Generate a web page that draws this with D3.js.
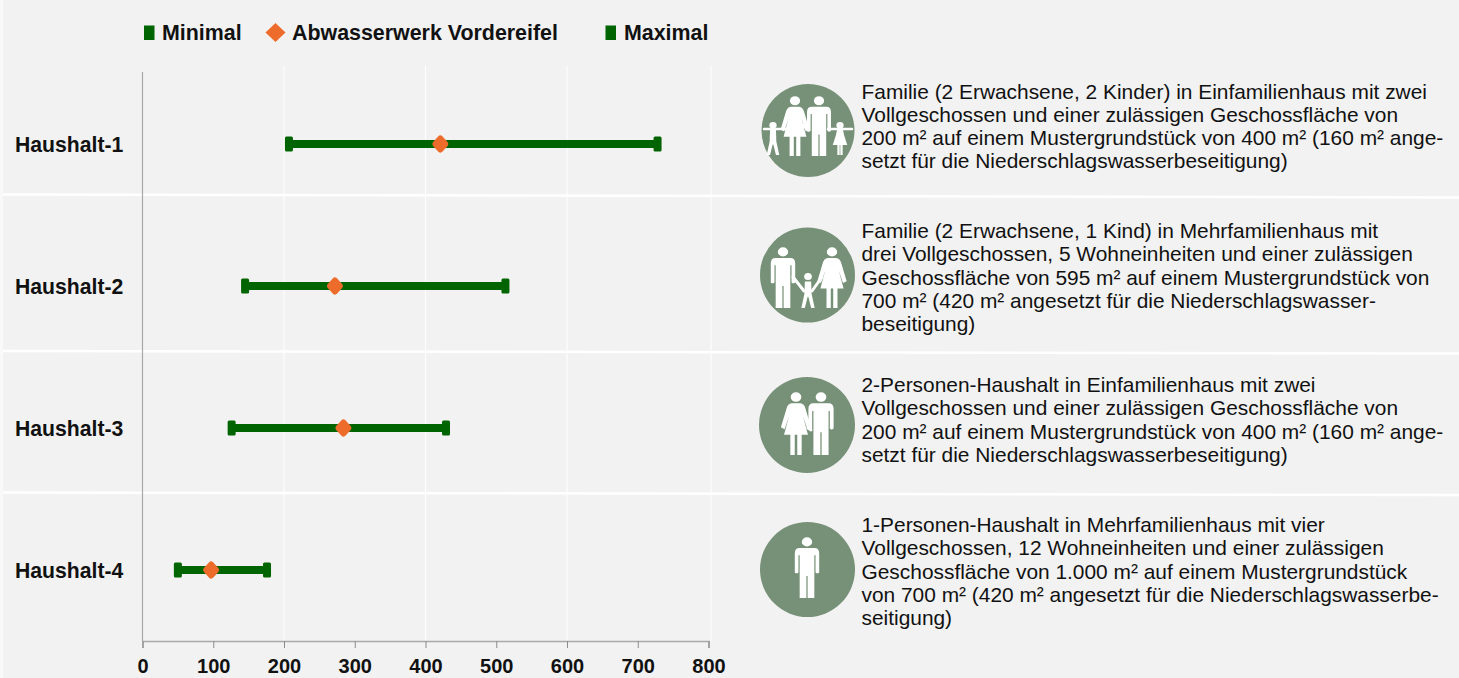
<!DOCTYPE html>
<html><head><meta charset="utf-8">
<script src="https://cdn.jsdelivr.net/npm/d3@7"></script>
<style>
html,body{margin:0;padding:0;background:#f2f2f2;overflow:hidden}
svg{display:block}
text{font-family:"Liberation Sans",Arial,sans-serif}
</style></head><body>
<svg id="c" width="1459" height="678"></svg>
<script>
const categories = ["Haushalt-1","Haushalt-2","Haushalt-3","Haushalt-4"];
const minimal = [207,145,126,50];
const werk = [421,272,284,97];
const maximal = [728,513,429,176];
const xTicks = [0,100,200,300,400,500,600,700,800];
const gridTicks = [200,400,600,800];
const legendLabels = ["Minimal","Abwasserwerk Vordereifel","Maximal"];
const descriptions = [
 ["Familie (2 Erwachsene, 2 Kinder) in Einfamilienhaus mit zwei","Vollgeschossen und einer zulässigen Geschossfläche von","200 m² auf einem Mustergrundstück von 400 m² (160 m² ange-","setzt für die Niederschlagswasserbeseitigung)"],
 ["Familie (2 Erwachsene, 1 Kind) in Mehrfamilienhaus mit","drei Vollgeschossen, 5 Wohneinheiten und einer zulässigen","Geschossfläche von 595 m² auf einem Mustergrundstück von","700 m² (420 m² angesetzt für die Niederschlagswasser-","beseitigung)"],
 ["2-Personen-Haushalt in Einfamilienhaus mit zwei","Vollgeschossen und einer zulässigen Geschossfläche von","200 m² auf einem Mustergrundstück von 400 m² (160 m² ange-","setzt für die Niederschlagswasserbeseitigung)"],
 ["1-Personen-Haushalt in Mehrfamilienhaus mit vier","Vollgeschossen, 12 Wohneinheiten und einer zulässigen","Geschossfläche von 1.000 m² auf einem Mustergrundstück","von 700 m² (420 m² angesetzt für die Niederschlagswasserbe-","seitigung)"]
];

const GREEN="#006400", ORANGE="#ee6c2b", INK="#111111", ICON="#769177";
const svg=d3.select("#c");
svg.append("defs").append("filter").attr("id","soft").append("feGaussianBlur").attr("stdDeviation",0.5);
svg.append("rect").attr("width",3).attr("height",678).attr("fill","#f9f9f9");

const x=d3.scaleLinear().domain([0,800]).range([142.5,708.5]);
const y=d3.scaleBand().domain(categories).range([73,641]);
const cy=c=>y(c)+y.bandwidth()/2;

svg.append("g").selectAll("line").data(gridTicks).join("line")
 .attr("x1",d=>x(d)+(d===800?2.5:0)).attr("x2",d=>x(d)+(d===800?2.5:0))
 .attr("y1",66).attr("y2",641).attr("stroke","#ffffff").attr("stroke-width",1);

[[3,194.5,1459,197.5],[3,351,1459,353.5],[3,492.5,1459,495]].forEach(s=>{
 svg.append("line").attr("x1",s[0]).attr("y1",s[1]).attr("x2",s[2]).attr("y2",s[3])
  .attr("stroke","#ffffff").attr("stroke-width",2.5);
});

const ax=svg.append("g").attr("transform","translate(0,641)")
 .call(d3.axisBottom(x).tickValues(xTicks).tickSize(7).tickFormat(d3.format("d")));
ax.select(".domain").attr("stroke","#a9a9a9").attr("stroke-width",1.5);
ax.selectAll(".tick line").attr("stroke","#8c8c8c").attr("stroke-width",1);
ax.selectAll("text").attr("fill",INK).attr("font-size",20).attr("font-weight","bold").attr("dy",0).attr("y",32);
svg.append("line").attr("x1",x(0)).attr("x2",x(0)).attr("y1",72).attr("y2",641).attr("stroke","#a9a9a9").attr("stroke-width",1.2);

svg.append("g").selectAll("text").data(categories).join("text")
 .attr("x",15).attr("y",d=>cy(d)+7.5).attr("font-size",21.2).attr("font-weight","bold").attr("fill",INK).text(d=>d);

const rows=categories.map((c,i)=>({c,min:minimal[i],mid:werk[i],max:maximal[i]}));
svg.append("g").selectAll("line").data(rows).join("line")
 .attr("x1",d=>x(d.min)).attr("x2",d=>x(d.max)).attr("y1",d=>cy(d.c)).attr("y2",d=>cy(d.c))
 .attr("stroke",GREEN).attr("stroke-width",8);
const cap=(sel,acc)=>sel.selectAll("rect").data(rows).join("rect")
 .attr("x",d=>x(acc(d))-4).attr("y",d=>cy(d.c)-7.5).attr("width",8).attr("height",15).attr("rx",1.5).attr("fill",GREEN);
cap(svg.append("g"),d=>d.min);
cap(svg.append("g"),d=>d.max);
const diamond=(cx,cy,rx,ry)=>`M${cx},${cy-ry}L${cx+rx},${cy}L${cx},${cy+ry}L${cx-rx},${cy}Z`;
svg.append("g").selectAll("path").data(rows).join("path")
 .attr("d",d=>diamond(x(d.mid),cy(d.c),5,5.5)).attr("fill",ORANGE)
 .attr("stroke",ORANGE).attr("stroke-width",6).attr("stroke-linejoin","round");

const leg=svg.append("g");
const legText=[162,292,624];
legendLabels.forEach((t,i)=>leg.append("text").attr("x",legText[i]).attr("y",40).attr("font-size",21.4).attr("font-weight","bold").attr("fill",INK).text(t));
leg.append("rect").attr("x",144).attr("y",25.5).attr("width",10.5).attr("height",14.5).attr("fill",GREEN);
leg.append("rect").attr("x",605.5).attr("y",25.5).attr("width",10.5).attr("height",14.5).attr("fill",GREEN);
leg.append("path").attr("d",diamond(275.5,32.5,10,9.5)).attr("fill",ORANGE);

const firstLine=[98.5,238,392,532];
const g=svg.append("g");
descriptions.forEach((lines,i)=>{
 g.append("text").attr("font-size",20.9).attr("fill",INK).selectAll("tspan").data(lines).join("tspan")
  .attr("x",861.5).attr("y",(d,j)=>firstLine[i]+j*23.25).text(d=>d);
});

const W="#fff";
function man(p,cx,top,h){
 const s=h/100,t=p.append("g").attr("transform",`translate(${cx},${top}) scale(${s})`).attr("fill",W);
 t.append("ellipse").attr("cy",8).attr("rx",8.5).attr("ry",7.5);
 t.append("path").attr("d","M-20,27Q-20,18 -12,18L12,18Q20,18 20,27L20,58Q17,61 14,58L14,30L12,30L12,100L1,100L1,64L-1,64L-1,100L-12,100L-12,30L-14,30L-14,58Q-17,61 -20,58Z");
}
function woman(p,cx,top,h){
 const s=h/100,t=p.append("g").attr("transform",`translate(${cx},${top}) scale(${s})`).attr("fill",W);
 t.append("ellipse").attr("cy",8).attr("rx",8.5).attr("ry",7.5);
 t.append("path").attr("d","M-7,18L7,18Q13,19 15,26L24,56L18,59L11,38L19,68L9,68L9,100L2,100L2,68L-2,68L-2,100L-9,100L-9,68L-19,68L-11,38L-18,59L-24,56L-15,26Q-13,19 -7,18Z");
}
function child(p,cx,top,h,girl){
 const s=h/100,t=p.append("g").attr("transform",`translate(${cx},${top}) scale(${s})`).attr("fill",W);
 t.append("ellipse").attr("cy",10).attr("rx",11).attr("ry",10);
 t.append("path").attr("d",girl
  ?"M-9,24L9,24L13,42L22,70L8,70L8,100L1,100L1,70L-1,70L-1,100L-8,100L-8,70L-22,70L-13,42Z"
  :"M-9,24L9,24L10,58L19,100L9,100L1,68L-1,68L-9,100L-19,100L-10,58Z");
}
const limb=(p,pts,w)=>p.append("polyline").attr("points",pts).attr("fill","none").attr("stroke",W).attr("stroke-width",w).attr("stroke-linecap","round").attr("stroke-linejoin","round");

const circles=[[808,130.5,46.5],[807.5,275,47.5],[807,425,48],[807.5,569.5,47.5]];
circles.forEach(c=>svg.append("circle").attr("cx",c[0]).attr("cy",c[1]).attr("r",c[2]).attr("fill",ICON));

const figs=svg.append("g").attr("filter","url(#soft)");
const i1=figs.append("g");
woman(i1,795,96,60); man(i1,819,96,60);
limb(i1,"764,129 787,129",2.5);limb(i1,"852,129 828,129",2.5);
limb(i1,"803,125 808,130",3);
child(i1,773,122,33,false); child(i1,840,122,33,true);

const i2=figs.append("g");
man(i2,783,247,61); woman(i2,832,247,61);
child(i2,808,273,35,false);
limb(i2,"793,277 804,291",3);limb(i2,"822,277 812,291",3);

const i3=figs.append("g");
woman(i3,796,392,63); man(i3,821,392,63);
limb(i3,"808,428 811,430",3);

const i4=figs.append("g");
man(i4,807,537,61);
</script>
</body></html>
